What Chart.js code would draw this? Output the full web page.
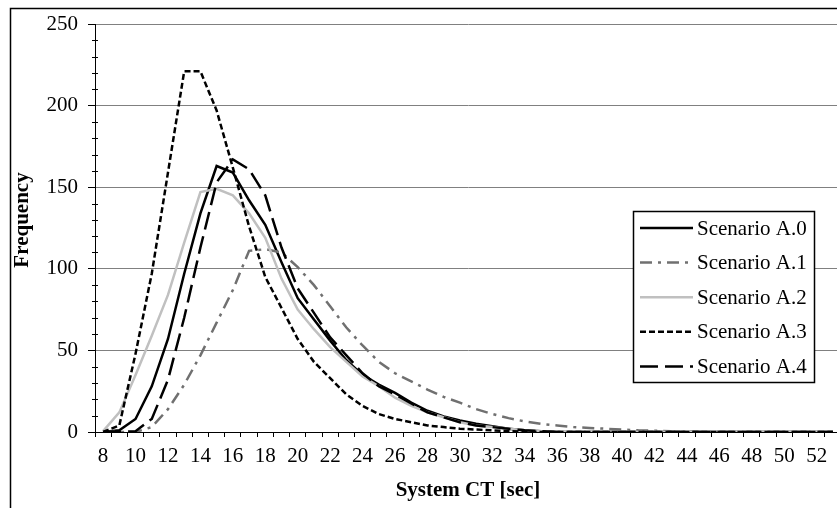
<!DOCTYPE html>
<html>
<head>
<meta charset="utf-8">
<script src="https://cdn.jsdelivr.net/npm/chart.js@4"></script>
<style>
  html, body { margin: 0; padding: 0; background: #fff; overflow: hidden; }
  #wrap { width: 837px; height: 508px; overflow: hidden; }
</style>
</head>
<body>
<div id="wrap"><canvas id="ct-chart" width="841" height="508"></canvas></div>
<script>
const categories = ["8","9","10","11","12","13","14","15","16","17","18","19","20","21","22","23",
  "24","25","26","27","28","29","30","31","32","33","34","35","36","37","38","39","40","41","42",
  "43","44","45","46","47","48","49","50","51","52","53"];

const scenarioA0 = [0, 1, 8, 28, 57, 97, 134, 163, 159, 142, 127, 104, 82, 69, 56, 44, 35, 29, 24, 18,
  13, 9.5, 7, 5, 3.5, 2, 1, 0.5, 0, 0, 0, 0, 0, 0, 0, 0, 0, 0, 0, 0, 0, 0, 0, 0, 0, 0];
const scenarioA1 = [0, 0, 0, 3, 14, 29, 47, 67, 87, 111, 112, 110, 101, 90, 77, 64, 53, 43, 36, 31,
  26, 21.5, 18, 14, 11, 8.5, 6.5, 5, 4, 3, 2.5, 2, 1.5, 1, 0.8, 0.5, 0.3, 0, 0, 0, 0, 0, 0, 0, 0, 0];
const scenarioA2 = [0.5, 12, 35, 59, 84, 116, 147, 149, 145, 134, 119, 94, 75, 63, 52, 43, 34, 28, 21, 16,
  12, 9, 6, 4, 3, 2, 1, 0.5, 0, 0, 0, 0, 0, 0, 0, 0, 0, 0, 0, 0, 0, 0, 0, 0, 0, 0];
const scenarioA3 = [0, 4, 48, 97, 159, 221, 221, 197, 162, 126, 95, 76, 57, 43, 33, 23, 16, 11, 8, 6,
  4, 3, 2, 1.5, 1, 0.5, 0.3, 0, 0, 0, 0, 0, 0, 0, 0, 0, 0, 0, 0, 0, 0, 0, 0, 0, 0, 0];
const scenarioA4 = [0, 0, 0.5, 8, 32, 70, 113, 153, 167, 161, 145, 113, 88, 73, 58, 47, 36, 28, 23, 17.5,
  12, 9, 6, 4, 3, 2, 1, 0.5, 0, 0, 0, 0, 0, 0, 0, 0, 0, 0, 0, 0, 0, 0, 0, 0, 0, 0];

const seriesNames = ["Scenario A.0", "Scenario A.1", "Scenario A.2", "Scenario A.3", "Scenario A.4"];
const yMin = 0, yMax = 250, yStep = 50, yMinorStep = 10;

const FONT = "'Liberation Serif', 'Times New Roman', Times, serif";
Chart.defaults.font.family = FONT;
Chart.defaults.font.size = 21;
Chart.defaults.color = "#000";

// outer frame (only top/left edges fall inside the picture)
const framePlugin = {
  id: "frame",
  beforeDraw(chart) {
    const ctx = chart.ctx;
    ctx.save();
    ctx.fillStyle = "#fff";
    ctx.fillRect(0, 0, chart.width, chart.height);
    ctx.strokeStyle = "#000";
    ctx.lineWidth = 1.5;
    ctx.strokeRect(10.5, 8.5, chart.width + 40, chart.height + 40);
    ctx.restore();
  },
};

// minor ticks on the value axis + the rotated axis title
const yExtras = {
  id: "yExtras",
  afterDraw(chart) {
    const y = chart.scales.y;
    const x0 = chart.chartArea.left;
    const ctx = chart.ctx;
    ctx.save();
    ctx.strokeStyle = "#000";
    ctx.lineWidth = 1;
    for (let v = yMin + yMinorStep; v < yMax; v += yMinorStep) {
      if (v % yStep === 0) continue;
      const py = Math.round(y.getPixelForValue(v)) + 0.5;
      ctx.beginPath();
      ctx.moveTo(x0 - 3, py);
      ctx.lineTo(x0 + 3, py);
      ctx.stroke();
    }
    ctx.translate(23, 220);
    ctx.rotate(-Math.PI / 2);
    ctx.font = "bold 21px " + FONT;
    ctx.fillStyle = "#000";
    ctx.textAlign = "center";
    ctx.textBaseline = "middle";
    ctx.fillText("Frequency", 0, 0);
    ctx.restore();
  },
};

// boxed legend inside the plot, like the original
const boxLegend = {
  id: "boxLegend",
  afterDraw(chart) {
    const ctx = chart.ctx;
    const left = 633, top = 211, w = 181, h = 171, row = 34.6;
    ctx.save();
    ctx.fillStyle = "#fff";
    ctx.fillRect(left, top, w, h);
    ctx.strokeStyle = "#000";
    ctx.lineWidth = 1.5;
    ctx.strokeRect(left + 0.5, top + 0.5, w, h);
    ctx.font = "21px " + FONT;
    ctx.textBaseline = "middle";
    ctx.textAlign = "left";
    chart.data.datasets.forEach((ds, i) => {
      const cy = top + 17 + i * row;
      ctx.beginPath();
      ctx.strokeStyle = ds.borderColor;
      ctx.lineWidth = ds.borderWidth;
      ctx.setLineDash(ds.borderDash || []);
      ctx.moveTo(640, cy);
      ctx.lineTo(693, cy);
      ctx.stroke();
      ctx.setLineDash([]);
      ctx.fillStyle = "#000";
      ctx.fillText(ds.label, 697, cy + 1);
    });
    ctx.restore();
  },
};

function series(label, data, color, dash, order) {
  return {
    label,
    data,
    borderColor: color,
    backgroundColor: color,
    borderWidth: 2.5,
    borderDash: dash,
    pointRadius: 0,
    tension: 0,
    fill: false,
    order,
  };
}

const ctx = document.getElementById("ct-chart").getContext("2d");
new Chart(ctx, {
  type: "line",
  data: {
    labels: categories,
    datasets: [
      series(seriesNames[0], scenarioA0, "#000000", [], 4),
      series(seriesNames[1], scenarioA1, "#707070", [12, 6, 3, 6], 3),
      series(seriesNames[2], scenarioA2, "#c0c0c0", [], 2),
      series(seriesNames[3], scenarioA3, "#000000", [6, 3], 1),
      series(seriesNames[4], scenarioA4, "#000000", [18, 7], 0),
    ],
  },
  options: {
    responsive: false,
    animation: false,
    devicePixelRatio: 1,
    layout: { padding: { left: 0, top: 24, right: 0, bottom: 0 } },
    plugins: {
      legend: { display: false },
      tooltip: { enabled: false },
    },
    scales: {
      x: {
        type: "category",
        offset: true,
        grid: { offset: true, drawOnChartArea: false, drawTicks: true, tickLength: 5, color: "#000" },
        border: { color: "#000", width: 1 },
        ticks: {
          autoSkip: false,
          maxRotation: 0,
          padding: 7,
          callback: function (val, i) {
            return i % 2 === 0 ? this.getLabelForValue(val) : "";
          },
        },
        title: {
          display: true,
          text: "System CT [sec]",
          font: { weight: "bold", size: 21 },
          padding: { top: 0, bottom: 5 },
        },
        afterFit: (s) => { s.height = 76; },
      },
      y: {
        min: yMin,
        max: yMax,
        ticks: { stepSize: yStep, padding: 10 },
        grid: {
          color: (c) => (c.tick && c.tick.value === 0 ? "rgba(0,0,0,0)" : "#808080"),
          tickColor: "#000",
          tickLength: 7,
          lineWidth: 1,
        },
        border: { color: "#000", width: 1 },
        afterFit: (s) => { s.width = 95; },
      },
    },
  },
  plugins: [framePlugin, yExtras, boxLegend],
});
</script>
</body>
</html>
